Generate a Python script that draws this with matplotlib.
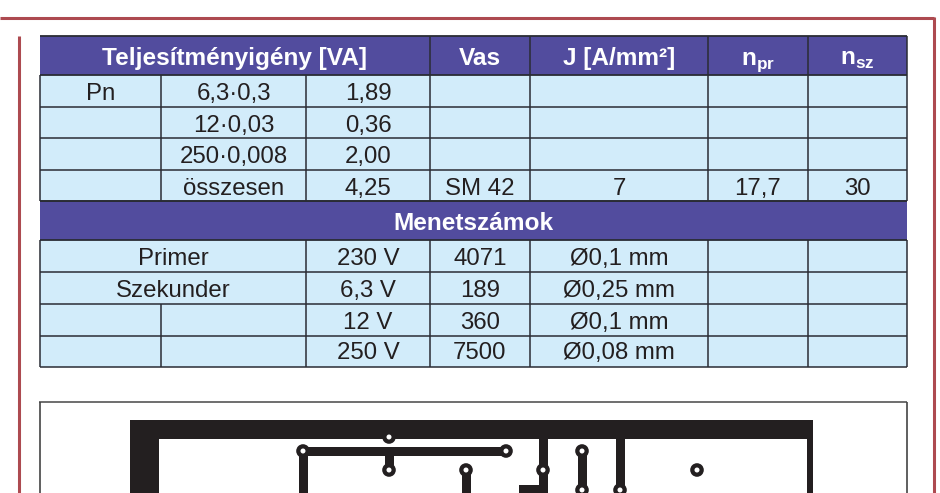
import matplotlib
matplotlib.use('Agg')
import matplotlib.pyplot as plt
from matplotlib.patches import Rectangle, Circle

plt.rcParams['font.family'] = ['Liberation Sans', 'DejaVu Sans']
plt.rcParams['mathtext.fontset'] = 'custom'
plt.rcParams['mathtext.bf'] = 'Liberation Sans:bold'
plt.rcParams['mathtext.rm'] = 'Liberation Sans:bold'

# table contents
header_top = ['Teljesítményigény [VA]', 'Vas', 'J [A/mm²]', r'n$_{\mathbf{pr}}$', r'n$_{\mathbf{sz}}$']
power_rows = [
    ['Pn', '6,3·0,3', '1,89', '', '', '', ''],
    ['', '12·0,03', '0,36', '', '', '', ''],
    ['', '250·0,008', '2,00', '', '', '', ''],
    ['', 'összesen', '4,25', 'SM 42', '7', '17,7', '30'],
]
section_title = 'Menetszámok'
turn_labels = ['Primer', 'Szekunder', '', '']
turn_volts = ['230 V', '6,3 V', '12 V', '250 V']
turn_counts = ['4071', '189', '360', '7500']
turn_wire = ['Ø0,1 mm', 'Ø0,25 mm', 'Ø0,1 mm', 'Ø0,08 mm']

# layout in pixels
col_x = [40, 161, 306, 430, 530, 708, 807.5, 907]
power_y = [75, 106.5, 138, 170, 201]
power_base = [100, 132, 163, 195]
turn_y = [240, 272, 304, 336, 367]
turn_base = [265, 297, 329, 359]
header_spans = [(0, 3), (3, 4), (4, 5), (5, 6), (6, 7)]

BLUE = '#524c9e'
LIGHT = '#d2ecfa'
LINE = '#2a2c34'
RED = '#ad4a50'
INK = '#231f20'
BODY = 17.3
HEAD = 17.6

fig = plt.figure(figsize=(9.4, 4.93), dpi=100)
ax = fig.add_axes([0, 0, 1, 1])
ax.set_xlim(0, 940)
ax.set_ylim(493, 0)
ax.axis('off')


def vline(x, y0, y1, lw=1.1, c=LINE):
    ax.plot([x, x], [y0, y1], color=c, lw=lw, solid_capstyle='butt')


def hline(y, x0, x1, lw=1.1, c=LINE):
    ax.plot([x0, x1], [y, y], color=c, lw=lw, solid_capstyle='butt')


def body_text(x, y, s):
    ax.text(x, y, s, ha='center', va='baseline', fontsize=BODY, color=INK)


def band(y0, y1):
    ax.add_patch(Rectangle((col_x[0], y0), col_x[-1] - col_x[0], y1 - y0, fc=BLUE, ec='none'))


# red frame
hline(17.5, 0, 934, lw=2.2, c=RED)
vline(933.5, 16.5, 493, lw=2.2, c=RED)
vline(19, 36, 493, lw=2.2, c=RED)

# backgrounds
ax.add_patch(Rectangle((col_x[0], 36), col_x[-1] - col_x[0], 331, fc=LIGHT, ec='none'))
band(36, 75)
band(201, 240)

# header row
for (a, b), label in zip(header_spans, header_top):
    ax.text((col_x[a] + col_x[b]) / 2, 65, label, ha='center', va='baseline',
            fontsize=HEAD, fontweight='bold', color='white')
    vline(col_x[b], 36, 75)
hline(36, 40, 907, lw=1.3)
hline(75, 40, 907, lw=1.3)
ax.text((col_x[0] + col_x[-1]) / 2, 230, section_title, ha='center', va='baseline',
        fontsize=HEAD, fontweight='bold', color='white')

# power rows
for n, row in enumerate(power_rows):
    for i, cell in enumerate(row):
        if cell:
            body_text((col_x[i] + col_x[i + 1]) / 2, power_base[n], cell)
    hline(power_y[n + 1], 40, 907)
for x in col_x:
    vline(x, 75, 201)

# winding rows
for n in range(len(turn_volts)):
    if turn_labels[n]:
        body_text((col_x[0] + col_x[2]) / 2, turn_base[n], turn_labels[n])
    body_text((col_x[2] + col_x[3]) / 2, turn_base[n], turn_volts[n])
    body_text((col_x[3] + col_x[4]) / 2, turn_base[n], turn_counts[n])
    body_text((col_x[4] + col_x[5]) / 2, turn_base[n], turn_wire[n])
    hline(turn_y[n + 1], 40, 907)
    if n >= 2:
        vline(col_x[1], turn_y[n], turn_y[n + 1])
for x in col_x[0:1] + col_x[2:]:
    vline(x, 240, 367)
hline(201, 40, 907, lw=1.3)
hline(240, 40, 907, lw=1.3)

# board outline
hline(402, 39, 907, lw=1.2, c='#555555')
vline(39.5, 402, 493, lw=1.2, c='#444444')
vline(907, 402, 493, lw=1.2, c='#444444')


# board copper
def copper(x0, y0, x1, y1):
    ax.add_patch(Rectangle((x0, y0), x1 - x0, y1 - y0, fc=INK, ec='none', zorder=3))


def pad(x, y, r=6.8, hole=2.5):
    ax.add_patch(Circle((x, y), r, fc=INK, ec='none', zorder=4))
    ax.add_patch(Circle((x, y), hole, fc='white', ec='none', zorder=5))


copper(130, 420, 813, 439)
copper(130, 420, 159, 493)
copper(807, 420, 813, 493)
copper(303, 447, 506, 456)
copper(299, 447, 308, 493)
copper(385, 447, 394, 470)
copper(462, 470, 471, 493)
copper(539, 439, 548, 493)
copper(519, 485, 548, 493)
copper(578, 451, 587, 490)
copper(616, 439, 625, 490)

pads = [(303, 451), (389, 437), (389, 470), (466, 470), (506, 451), (543, 470),
        (582, 451), (582, 490), (620, 490), (697, 470)]
for px, py in pads:
    pad(px, py)

fig.savefig('out.png', dpi=100)
